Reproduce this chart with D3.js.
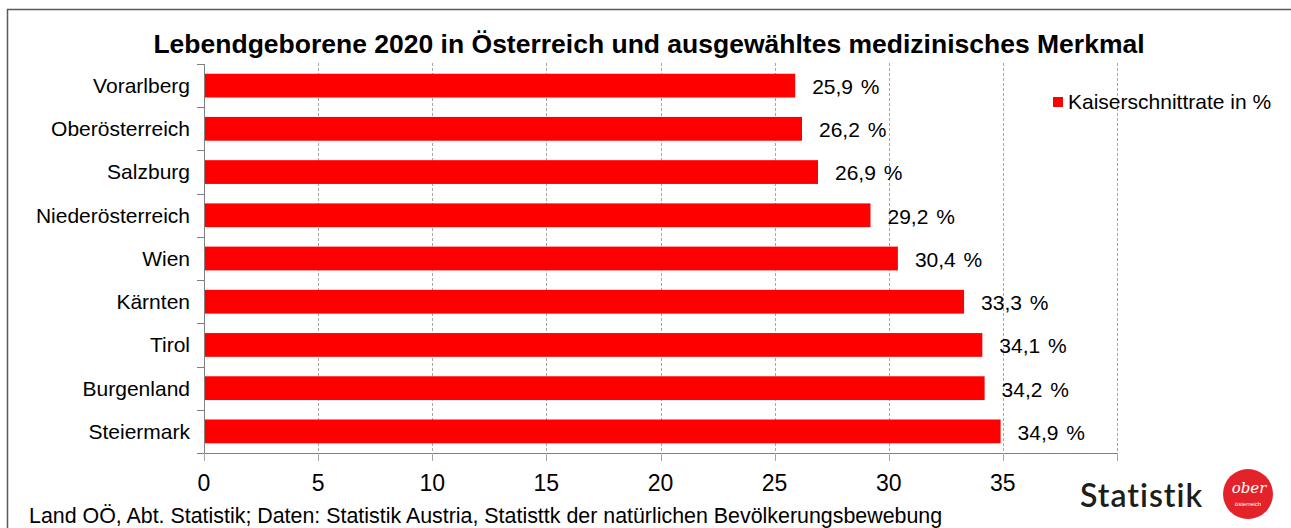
<!DOCTYPE html>
<html>
<head>
<meta charset="utf-8">
<script src="https://cdn.jsdelivr.net/npm/d3@7"></script>
<style>
  body { margin: 0; background: #fff; }
  svg { display: block; font-family: "Liberation Sans", Arial, sans-serif; }
</style>
</head>
<body>
<div id="chart"></div>
<script>
const regions = ["Vorarlberg", "Oberösterreich", "Salzburg", "Niederösterreich", "Wien", "Kärnten", "Tirol", "Burgenland", "Steiermark"];
const rates = [25.9, 26.2, 26.9, 29.2, 30.4, 33.3, 34.1, 34.2, 34.9];
const xTicks = [0, 5, 10, 15, 20, 25, 30, 35];
const gridTicks = [5, 10, 15, 20, 25, 30, 35, 40];
const seriesName = "Kaiserschnittrate in %";

{
    const width = 1291, height = 528;
    const plot = { left: 204, right: 1117, top: 64, bottom: 453 };

    const svg = d3.select("#chart").append("svg")
        .attr("width", width)
        .attr("height", height);

    // outer frame
    svg.append("rect")
        .attr("x", 7.5).attr("y", 9.5)
        .attr("width", 1300).attr("height", 600)
        .attr("fill", "none")
        .attr("stroke", "#595959")
        .attr("stroke-width", 1.5);

    const x = d3.scaleLinear().domain([0, 40]).range([plot.left, plot.right]);
    const y = d3.scaleBand().domain(regions).range([plot.top, plot.bottom])
        .paddingInner(0.45).paddingOuter(0.225);

    // title
    svg.append("text")
        .attr("x", 649).attr("y", 53)
        .attr("text-anchor", "middle")
        .style("font-size", "26.5px")
        .style("font-weight", "bold")
        .text("Lebendgeborene 2020 in Österreich und ausgewähltes medizinisches Merkmal");

    // gridlines
    svg.append("g").selectAll("line")
        .data(gridTicks)
        .enter().append("line")
        .attr("x1", d => Math.round(x(d)) + 0.5)
        .attr("x2", d => Math.round(x(d)) + 0.5)
        .attr("y1", plot.top - 1)
        .attr("y2", plot.bottom)
        .attr("stroke", "#a6a6a6")
        .attr("stroke-dasharray", "3,2");

    // bars
    svg.append("g").selectAll("rect")
        .data(regions)
        .enter().append("rect")
        .attr("x", x(0))
        .attr("y", d => y(d))
        .attr("width", (d, i) => x(rates[i]) - x(0))
        .attr("height", y.bandwidth())
        .attr("fill", "#ff0000");

    // value labels
    svg.append("g").selectAll("text")
        .data(regions)
        .enter().append("text")
        .attr("x", (d, i) => x(rates[i]) + 17)
        .attr("y", d => y(d) + y.bandwidth() / 2 + 1)
        .attr("dy", "0.35em")
        .style("font-size", "21px")
        .style("word-spacing", "2px")
        .text((d, i) => rates[i].toFixed(1).replace(".", ",") + " %");

    // y axis
    const yAxis = svg.append("g");
    yAxis.append("line")
        .attr("x1", plot.left + 0.5).attr("x2", plot.left + 0.5)
        .attr("y1", plot.top).attr("y2", plot.bottom)
        .attr("stroke", "#808080");
    const step = (plot.bottom - plot.top) / regions.length;
    yAxis.selectAll(".tick")
        .data(d3.range(regions.length + 1))
        .enter().append("line")
        .attr("x1", plot.left - 7).attr("x2", plot.left)
        .attr("y1", d => Math.round(plot.top + d * step) + 0.5)
        .attr("y2", d => Math.round(plot.top + d * step) + 0.5)
        .attr("stroke", "#808080");
    yAxis.selectAll("text")
        .data(regions)
        .enter().append("text")
        .attr("x", 190)
        .attr("y", d => y(d) + y.bandwidth() / 2)
        .attr("dy", "0.35em")
        .attr("text-anchor", "end")
        .style("font-size", "21px")
        .text(d => d);

    // x axis
    const xAxis = svg.append("g");
    xAxis.append("line")
        .attr("x1", plot.left).attr("x2", plot.right)
        .attr("y1", plot.bottom + 0.5).attr("y2", plot.bottom + 0.5)
        .attr("stroke", "#808080");
    xAxis.selectAll(".tick")
        .data([0].concat(gridTicks))
        .enter().append("line")
        .attr("x1", d => Math.round(x(d)) + 0.5)
        .attr("x2", d => Math.round(x(d)) + 0.5)
        .attr("y1", plot.bottom)
        .attr("y2", plot.bottom + 8)
        .attr("stroke", "#a6a6a6");
    xAxis.selectAll("text")
        .data(xTicks)
        .enter().append("text")
        .attr("x", d => x(d))
        .attr("y", 491)
        .attr("text-anchor", "middle")
        .style("font-size", "23px")
        .text(d => d);

    // legend
    svg.append("rect")
        .attr("x", 1053).attr("y", 97)
        .attr("width", 10).attr("height", 10)
        .attr("fill", "#ff0000");
    svg.append("text")
        .attr("x", 1068).attr("y", 102)
        .attr("dy", "0.35em")
        .style("font-size", "21px")
        .text(seriesName);

    // footer
    svg.append("text")
        .attr("x", 29).attr("y", 523)
        .style("font-size", "21.4px")
        .text("Land OÖ, Abt. Statistik; Daten: Statistik Austria, Statisttk der natürlichen Bevölkerungsbewebung");

    // logo
    svg.append("text")
        .attr("x", 1080).attr("y", 507)
        .style("font-family", "Lato, 'Open Sans', sans-serif")
        .style("font-size", "32px")
        .style("font-weight", "600")
        .style("letter-spacing", "1px")
        .attr("fill", "#1d1d1b")
        .text("Statistik");
    svg.append("circle")
        .attr("cx", 1248).attr("cy", 494).attr("r", 25)
        .attr("fill", "#e3222a");
    svg.append("text")
        .attr("x", 1249).attr("y", 493)
        .attr("text-anchor", "middle")
        .style("font-family", "'DejaVu Serif', serif")
        .style("font-style", "italic")
        .style("font-size", "15px")
        .attr("fill", "#fff")
        .text("ober");
    svg.append("text")
        .attr("x", 1248).attr("y", 506)
        .attr("text-anchor", "middle")
        .style("font-size", "6px")
        .attr("fill", "#fff")
        .text("österreich");
}
</script>
</body>
</html>
